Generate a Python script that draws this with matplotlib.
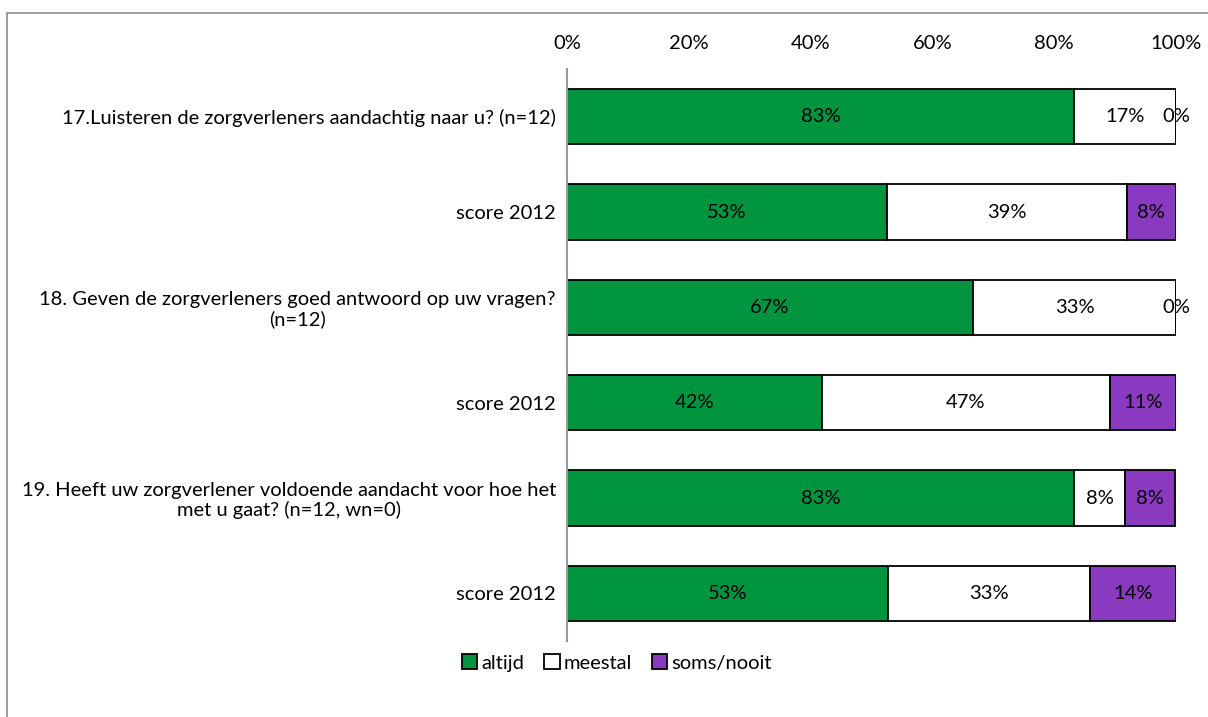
import numpy as np
import matplotlib.pyplot as plt
from matplotlib.patches import Rectangle, Patch

plt.rcParams['font.family'] = ['Lato', 'DejaVu Sans']

# vragen en referentiescores (van boven naar beneden)
vragen = [
    "17.Luisteren de zorgverleners aandachtig naar u? (n=12)",
    "score 2012",
    "18. Geven de zorgverleners goed antwoord op uw vragen?\n(n=12)",
    "score 2012",
    "19. Heeft uw zorgverlener voldoende aandacht voor hoe het\nmet u gaat? (n=12, wn=0)",
    "score 2012",
]
altijd = [83.3, 52.6, 66.7, 41.9, 83.3, 52.7]
meestal = [16.7, 39.3, 33.3, 47.2, 8.3, 33.2]
soms_nooit = [0.0, 8.1, 0.0, 10.9, 8.3, 14.1]

categorieen = ["altijd", "meestal", "soms/nooit"]
kleuren = ["#00943F", "#FFFFFF", "#8A3AC0"]

FS = 14.5
W, H = 1208, 717
fig = plt.figure(figsize=(W / 100, H / 100), dpi=100)
ax = fig.add_axes([567 / W, 1 - 641 / H, (1176 - 567) / W, (641 - 69) / H])

# kader rond de grafiek
fig.patches.append(Rectangle((7 / W, -0.1), 1.2, 1 - 13 / H + 0.1,
                             transform=fig.transFigure, fill=False,
                             edgecolor="#8c8c8c", linewidth=1.2, clip_on=False))

y = np.arange(len(vragen))
links = np.zeros(len(vragen))
for reeks, kleur in zip([altijd, meestal, soms_nooit], kleuren):
    waarden = np.array(reeks)
    ax.barh(y, waarden, left=links, height=0.58, color=kleur,
            edgecolor="black", linewidth=1.3)
    for yi, l, w in zip(y, links, waarden):
        ax.text(l + w / 2, yi, f"{w:.0f}%", ha="center", va="center",
                fontsize=FS, color="black")
    links += waarden

ax.set_xlim(0, 100)
ax.set_ylim(len(vragen) - 0.5, -0.5)
ax.set_yticks(y)
ax.set_yticklabels(vragen, fontsize=FS, multialignment="center", linespacing=1.1)
ax.set_xticks(np.arange(0, 101, 20))
ax.set_xticklabels([f"{t}%" for t in range(0, 101, 20)], fontsize=FS)
ax.xaxis.tick_top()
ax.tick_params(axis="x", length=0, pad=12)
ax.tick_params(axis="y", length=0, pad=8)

for kant in ["top", "right", "bottom"]:
    ax.spines[kant].set_visible(False)
ax.spines["left"].set_color("#999999")
ax.spines["left"].set_linewidth(1.5)

handles = [Patch(facecolor=k, edgecolor="black", linewidth=1.3) for k in kleuren]
fig.legend(handles, categorieen, loc="center", bbox_to_anchor=(617 / W, 1 - 663 / H),
           ncol=3, frameon=False, fontsize=FS, handlelength=0.75, handleheight=0.75,
           handletextpad=0.2, columnspacing=1.0)

fig.savefig("out.png", dpi=100)
